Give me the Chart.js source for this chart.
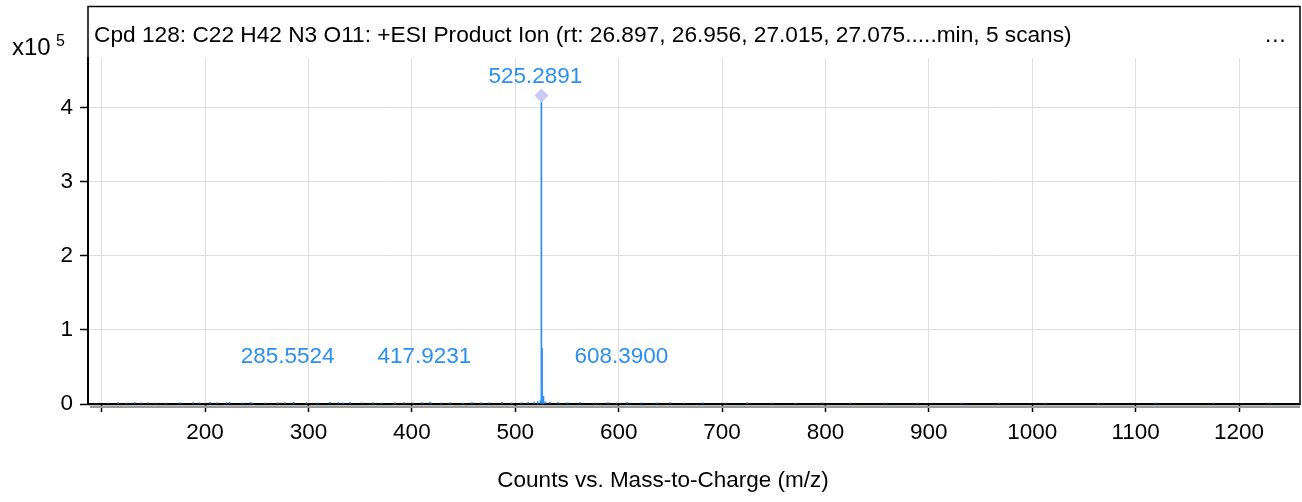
<!DOCTYPE html>
<html>
<head>
<meta charset="utf-8">
<script src="https://cdn.jsdelivr.net/npm/chart.js@4.4.1/dist/chart.umd.min.js"></script>
<style>
  html, body { margin: 0; padding: 0; background: #fff; }
  #wrap { width: 1302px; height: 502px; }
</style>
</head>
<body>
<div id="wrap"><canvas id="myChart" width="1302" height="502"></canvas></div>
<script>
// spectrum data (m/z, counts)
var peakMz = [
  106.2, 115.8, 123.9, 131.9, 138.4, 144.8, 151.3, 162.0, 175.5, 188.4, 194.9,
  204.6, 211.0, 220.7, 223.9, 236.1, 243.3, 244.9, 258.4, 270.2, 277.2, 285.5524,
  298.2, 309.5, 320.7, 328.7, 333.6, 340.1, 351.8, 362.6, 371.0, 383.4, 392.7,
  401.2, 409.8, 417.9231, 428.5, 437.3, 449.6, 458.1, 466.9, 474.2, 487.5, 496.3,
  505.8, 512.4, 518.3, 521.6, 524.3, 525.2891, 525.9, 526.6, 527.3, 529.1, 533.5,
  541.2, 550.7, 562.9, 577.4, 589.6, 598.1, 608.3900, 621.7, 636.4, 649.8, 663.2,
  681.5, 702.9, 724.3, 748.6, 771.2, 796.5, 823.7, 857.1, 889.4, 931.6, 968.2,
  1012.5, 1063.8, 1118.4, 1175.9, 1229.6
];
var peakCounts = [
  1200, 1800, 1500, 2200, 1600, 1900, 1400, 1300, 1700, 2000, 1500,
  2300, 1600, 1800, 2100, 1400, 1900, 1700, 1500, 1600, 2000, 2600,
  1800, 1500, 2200, 1900, 1600, 2100, 1500, 1800, 1400, 1700, 2000,
  1600, 1900, 2500, 1500, 1800, 1400, 2000, 1600, 1700, 2100, 1500,
  1800, 2200, 2600, 3200, 4500, 416500, 75000, 5000, 10500, 3000, 2400,
  1900, 1700, 2200, 1500, 1800, 1400, 2300, 1600, 1500, 1800, 1400,
  1500, 1300, 1600, 1400, 1200, 1500, 1300, 1400, 1200, 1300, 1200,
  1300, 1200, 1400, 1200, 1500
];
var labelMz = [285.5524, 417.9231, 525.2891, 608.3900];
var labelText = ['285.5524', '417.9231', '525.2891', '608.3900'];
var markerMz = [525.2891];
var markerCounts = [416500];
var xTicks = [100, 200, 300, 400, 500, 600, 700, 800, 900, 1000, 1100, 1200];
var yTicks = [0, 100000, 200000, 300000, 400000];

var FONT = '"Liberation Sans", Arial, sans-serif';
var BLUE = '#2b8ff2';

var decorPlugin = {
  id: 'decor',
  afterDraw: function (chart) {
    var ctx = chart.ctx;
    var xs = chart.scales.x, ys = chart.scales.y;
    var area = chart.chartArea;
    ctx.save();
    // shadow under x axis
    ctx.strokeStyle = '#9a9a9a';
    ctx.lineWidth = 2;
    ctx.beginPath();
    ctx.moveTo(area.left + 2, area.bottom + 3);
    ctx.lineTo(area.right + 1, area.bottom + 3);
    ctx.stroke();
    // frame
    ctx.strokeStyle = '#000';
    ctx.lineWidth = 1.5;
    ctx.strokeRect(area.left, 6.5, area.right - area.left + 1, area.bottom - 6);
    // exponent label
    ctx.fillStyle = '#000';
    ctx.textAlign = 'left';
    ctx.textBaseline = 'alphabetic';
    ctx.font = '24px ' + FONT;
    ctx.fillText('x10', 12, 55);
    ctx.font = '16px ' + FONT;
    ctx.fillText('5', 56, 46);
    // title
    ctx.font = '22.7px ' + FONT;
    ctx.fillText('Cpd 128: C22 H42 N3 O11: +ESI Product Ion (rt: 26.897, 26.956, 27.015, 27.075.....min, 5 scans)', 94, 42);
    ctx.fillText('\u2026', 1264, 42);
    // axis title
    ctx.textAlign = 'center';
    ctx.font = '22.5px ' + FONT;
    ctx.fillText('Counts vs. Mass-to-Charge (m/z)', 663, 487);
    // peak labels
    ctx.fillStyle = BLUE;
    for (var i = 0; i < labelMz.length; i++) {
      var px = xs.getPixelForValue(labelMz[i]) - 6;
      var idx = markerMz.indexOf(labelMz[i]);
      var py = idx >= 0 ? ys.getPixelForValue(markerCounts[idx]) - 12.5 : ys.getPixelForValue(55000);
      ctx.fillText(labelText[i], px, py);
    }
    ctx.restore();
  }
};

var ctx = document.getElementById('myChart').getContext('2d');
var myChart = new Chart(ctx, {
  type: 'bar',
  data: {
    datasets: [{
      type: 'scatter',
      data: markerMz.map(function (m, i) { return { x: m, y: markerCounts[i] }; }),
      pointStyle: 'rectRot',
      pointRadius: 7,
      backgroundColor: '#c8c8f6',
      borderWidth: 0
    }, {
      type: 'bar',
      data: peakMz.map(function (m, i) { return { x: m, y: peakCounts[i] }; }),
      backgroundColor: BLUE,
      borderWidth: 0,
      barThickness: 1,
      grouped: false
    }]
  },
  options: {
    responsive: false,
    animation: false,
    events: [],
    layout: { autoPadding: false, padding: { top: 58, right: 3, left: 0, bottom: 0 } },
    plugins: { legend: { display: false }, tooltip: { enabled: false }, title: { display: false } },
    scales: {
      x: {
        type: 'linear',
        min: 86.75,
        max: 1258,
        offset: false,
        grid: { color: '#dedede', offset: false, tickLength: 8, tickColor: '#000', tickWidth: 1.5 },
        border: { color: '#000', width: 2 },
        ticks: {
          color: '#000',
          padding: 7,
          maxRotation: 0,
          autoSkip: false,
          font: { family: FONT, size: 22.5 },
          callback: function (v) { return v < 150 ? '' : v; }
        },
        afterBuildTicks: function (s) { s.ticks = xTicks.map(function (v) { return { value: v }; }); },
        afterFit: function (s) { s.height = 98; s.paddingLeft = 0; s.paddingRight = 0; }
      },
      y: {
        min: 0,
        max: 467200,
        grid: { color: '#dedede', tickLength: 8, tickColor: '#000', tickWidth: 1.5 },
        border: { color: '#000', width: 2 },
        ticks: {
          color: '#000',
          padding: 7,
          font: { family: FONT, size: 22.5 },
          callback: function (v) { return v / 100000; }
        },
        afterBuildTicks: function (s) { s.ticks = yTicks.map(function (v) { return { value: v }; }); },
        afterFit: function (s) { s.width = 88; s.paddingTop = 0; s.paddingBottom = 0; }
      }
    }
  },
  plugins: [decorPlugin]
});
</script>
</body>
</html>
